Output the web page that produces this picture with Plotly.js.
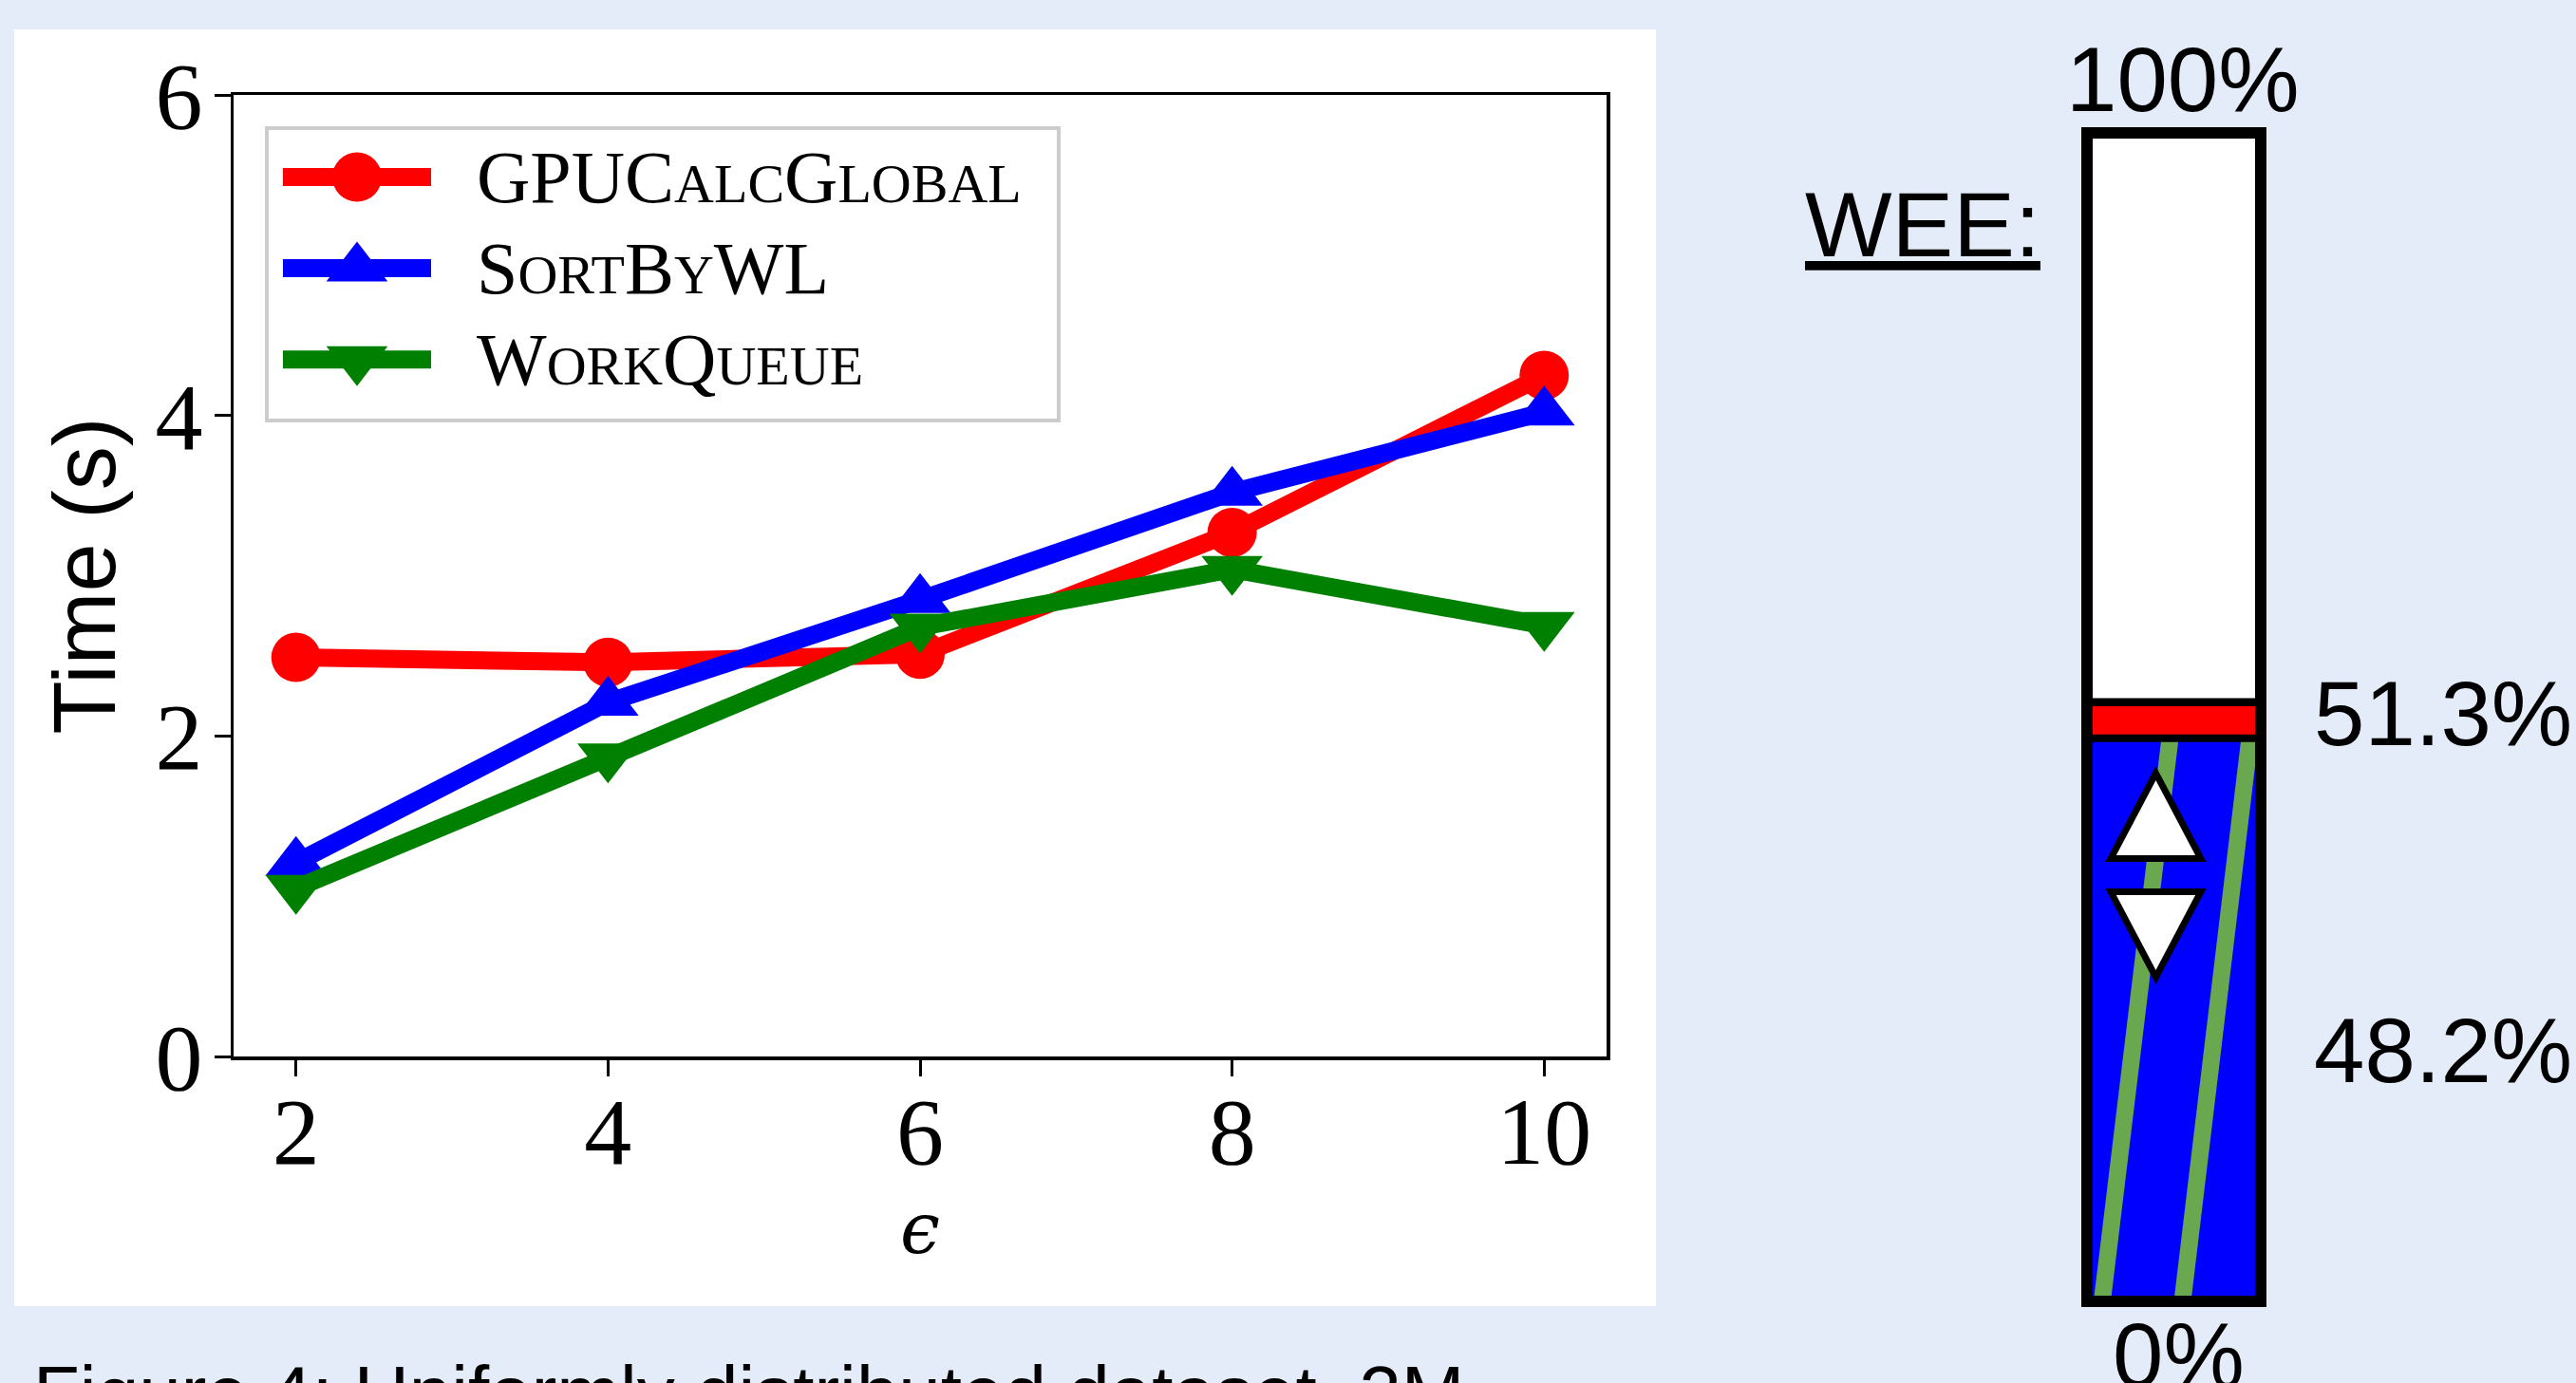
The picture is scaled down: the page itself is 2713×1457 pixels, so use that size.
<!DOCTYPE html>
<html><head><meta charset="utf-8">
<script src="https://cdn.plot.ly/plotly-3.0.1.min.js"></script>
<style>html,body{margin:0;padding:0;background:#E4ECF9;overflow:hidden;} #chart{width:2713px;height:1457px;}</style>
</head><body><div id="chart"></div>
<script>
// ---- data ----
const epsilon = [2, 4, 6, 8, 10];
const gpuCalcGlobal = [2.49, 2.46, 2.51, 3.27, 4.25];
const sortByWL = [1.21, 2.21, 2.85, 3.52, 4.02];
const workQueue = [1.05, 1.87, 2.68, 3.04, 2.69];
const seriesNames = ['GPUCalcGlobal', 'SortByWL', 'WorkQueue'];
const xTicks = [2, 4, 6, 8, 10];
const yTicks = [0, 2, 4, 6];
const xTitle = 'ϵ';
const yTitle = 'Time (s)';
const weeTitle = 'WEE:';
const weeTop = 100, weeUpper = 51.3, weeLower = 48.2, weeBottom = 0;
const caption = 'Figure 4: Uniformly distributed dataset, 2M';

// ---- helpers ----
const W = 2713, H = 1457;
const px = x => x / W;
const py = y => 1 - y / H;
function smallCaps(s) {
  let out = '', buf = '';
  for (const ch of s) {
    if (ch >= 'a' && ch <= 'z') { buf += ch.toUpperCase(); }
    else { if (buf) { out += '<span style="font-size:58px">' + buf + '</span>'; buf = ''; } out += ch; }
  }
  if (buf) out += '<span style="font-size:58px">' + buf + '</span>';
  return out;
}
const colors = ['#FF0000', '#0000FF', '#008000'];
const symbols = ['circle', 'triangle-up', 'triangle-down'];
const sizes = [52, 56, 56];
const series = [gpuCalcGlobal, sortByWL, workQueue];
const BG = '#E4ECF9';

const traces = [];
series.forEach((ys, i) => {
  traces.push({
    type: 'scatter', mode: 'lines+markers', x: epsilon, y: ys, name: seriesNames[i],
    xaxis: 'x', yaxis: 'y',
    line: {color: colors[i], width: 19},
    marker: {color: colors[i], symbol: symbols[i], size: sizes[i], opacity: 1, line: {width: 0}},
    showlegend: false, hoverinfo: 'x+y'
  });
});
// legend keys (drawn in a small dedicated axis)
series.forEach((ys, i) => {
  traces.push({
    type: 'scatter', mode: 'lines+markers', x: [0, 0.5, 1], y: [i, i, i],
    xaxis: 'x3', yaxis: 'y3', cliponaxis: false,
    line: {color: colors[i], width: 19},
    marker: {color: colors[i], symbol: symbols[i], size: [0, sizes[i], 0], opacity: 1, line: {width: 0}},
    showlegend: false, hoverinfo: 'skip'
  });
});
// WEE stacked bar
traces.push({type: 'bar', x: ['WEE'], y: [weeLower - weeBottom], base: weeBottom, xaxis: 'x2', yaxis: 'y2',
  marker: {color: '#0000FF', line: {width: 0}}, showlegend: false, hoverinfo: 'skip'});
traces.push({type: 'bar', x: ['WEE'], y: [weeUpper - weeLower], base: weeLower, xaxis: 'x2', yaxis: 'y2',
  marker: {color: '#FF0000', line: {width: 0}}, showlegend: false, hoverinfo: 'skip'});
traces.push({type: 'bar', x: ['WEE'], y: [weeTop - weeUpper], base: weeUpper, xaxis: 'x2', yaxis: 'y2',
  marker: {color: '#FFFFFF', line: {width: 8, color: '#000000'}}, showlegend: false, hoverinfo: 'skip'});

const serif = 'Liberation Serif, Times New Roman, serif';
const sans = 'Liberation Sans, Arial, sans-serif';

const shapes = [
  // white panel behind the line chart
  {type: 'rect', xref: 'paper', yref: 'paper', x0: px(15), x1: px(1744), y0: py(1376), y1: py(31),
   fillcolor: '#FFFFFF', line: {width: 0}, layer: 'below'},
  // legend frame
  {type: 'rect', xref: 'paper', yref: 'paper', x0: px(281), x1: px(1115), y0: py(443), y1: py(135),
   fillcolor: '#FFFFFF', line: {color: '#CCCCCC', width: 4}, layer: 'below'},
  // green hatch stripes inside the lower (blue) part
  {type: 'line', xref: 'x2', yref: 'y2', x0: -0.429, x1: -0.022, y0: weeBottom - 2, y1: weeLower,
   line: {color: '#6AA84F', width: 18}, layer: 'above'},
  {type: 'line', xref: 'x2', yref: 'y2', x0: 0.033, x1: 0.437, y0: weeBottom - 2, y1: weeLower,
   line: {color: '#6AA84F', width: 18}, layer: 'above'},
  // separators
  {type: 'line', xref: 'x2 domain', yref: 'y2', x0: 0, x1: 1, y0: weeLower, y1: weeLower,
   line: {color: '#000000', width: 8}, layer: 'above'},
  {type: 'line', xref: 'x2 domain', yref: 'y2', x0: 0, x1: 1, y0: weeUpper, y1: weeUpper,
   line: {color: '#000000', width: 8}, layer: 'above'},
  // frame
  {type: 'rect', xref: 'x2 domain', yref: 'y2 domain', x0: 0, x1: 1, y0: 0, y1: 1,
   line: {color: '#000000', width: 12}, fillcolor: 'rgba(0,0,0,0)', layer: 'above'},
  // up / down indicator triangles
  {type: 'path', xref: 'x2', yref: 'y2', path: 'M -0.104,45.2 L 0.155,37.9 L -0.363,37.9 Z',
   fillcolor: '#FFFFFF', line: {color: '#000000', width: 7}, layer: 'above'},
  {type: 'path', xref: 'x2', yref: 'y2', path: 'M -0.363,35.05 L 0.155,35.05 L -0.104,27.74 Z',
   fillcolor: '#FFFFFF', line: {color: '#000000', width: 7}, layer: 'above'}
];

const annotations = [];
seriesNames.forEach((n, i) => {
  annotations.push({xref: 'paper', yref: 'paper', x: px(500), y: py(186.5 + 96.1 * i), xanchor: 'left', yanchor: 'middle',
    text: smallCaps(n), showarrow: false, font: {family: serif, size: 78, color: '#000000'}});
});
annotations.push({xref: 'paper', yref: 'paper', x: px(1899), y: py(236), xanchor: 'left', yanchor: 'middle',
  text: '<u>' + weeTitle + '</u>', showarrow: false, font: {family: sans, size: 97, color: '#000000'}});
annotations.push({xref: 'paper', yref: 'paper', x: px(2299), y: py(83), xanchor: 'center', yanchor: 'middle',
  text: weeTop + '%', showarrow: false, font: {family: sans, size: 96, color: '#000000'}});
annotations.push({xref: 'paper', yref: 'paper', x: px(2435), y: py(751), xanchor: 'left', yanchor: 'middle',
  text: weeUpper.toFixed(1) + '%', showarrow: false, font: {family: sans, size: 96, color: '#000000'}});
annotations.push({xref: 'paper', yref: 'paper', x: px(2435), y: py(1106), xanchor: 'left', yanchor: 'middle',
  text: weeLower.toFixed(1) + '%', showarrow: false, font: {family: sans, size: 96, color: '#000000'}});
annotations.push({xref: 'paper', yref: 'paper', x: px(2294), y: py(1427), xanchor: 'center', yanchor: 'middle',
  text: weeBottom + '%', showarrow: false, font: {family: sans, size: 96, color: '#000000'}});
annotations.push({xref: 'paper', yref: 'paper', x: px(33), y: py(1467), xanchor: 'left', yanchor: 'middle',
  text: caption, showarrow: false, font: {family: sans, size: 80, color: '#000000'}});

const axisCommon = {showgrid: false, zeroline: false, showline: true, linecolor: '#000000', linewidth: 3.5,
  mirror: true, ticks: 'outside', ticklen: 17, tickwidth: 3, tickcolor: '#000000',
  tickfont: {family: serif, size: 100, color: '#000000'}};
const hidden = {visible: false, showgrid: false, zeroline: false, fixedrange: true};

const layout = {
  width: W, height: H, margin: {l: 0, r: 0, t: 0, b: 0},
  paper_bgcolor: BG, plot_bgcolor: '#FFFFFF', showlegend: false,
  barmode: 'stack', bargap: 0,
  xaxis: Object.assign({}, axisCommon, {domain: [px(246), px(1692)], range: [1.6, 10.4], tickmode: 'array', tickvals: xTicks,
    ticklabelstandoff: -28,
    title: {text: '<i>' + xTitle + '</i>', font: {family: 'DejaVu Serif, serif', size: 75, color: '#000000'}, standoff: 22}}),
  yaxis: Object.assign({}, axisCommon, {domain: [py(1113), py(100)], range: [0, 6], tickmode: 'array', tickvals: yTicks,
    ticklabelstandoff: -8,
    title: {text: yTitle, font: {family: sans, size: 92, color: '#000000'}, standoff: 12}}),
  xaxis2: Object.assign({}, hidden, {domain: [px(2198), px(2381)], range: [-0.5, 0.5], type: 'category', anchor: 'y2'}),
  yaxis2: Object.assign({}, hidden, {domain: [py(1371), py(140)], range: [0, 100], anchor: 'x2'}),
  xaxis3: Object.assign({}, hidden, {domain: [px(298), px(454)], range: [0, 1], anchor: 'y3'}),
  yaxis3: Object.assign({}, hidden, {domain: [py(426.7), py(138.5)], range: [2.5, -0.5], anchor: 'x3'}),
  shapes: shapes, annotations: annotations
};

Plotly.newPlot('chart', traces, layout, {staticPlot: true, displayModeBar: false});
</script>
</body></html>
